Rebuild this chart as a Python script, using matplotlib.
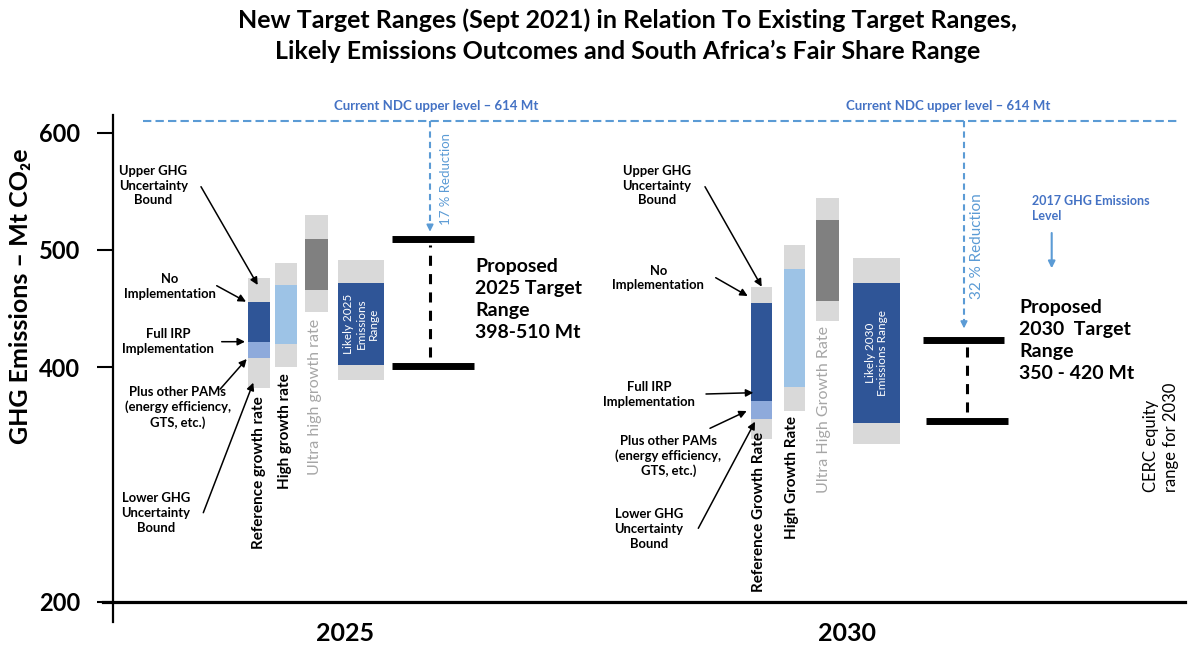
import matplotlib
matplotlib.use('Agg')
import matplotlib.pyplot as plt

plt.rcParams['font.family'] = ['Lato', 'DejaVu Sans']

W, H = 1197, 650

# ---- data (Mt CO2e) ----
years = ['2025', '2030']
ndc_level = 610
ndc_label = 'Current NDC upper level – 614 Mt'

# reference growth rate: lower bound, +PAMs, full IRP, no implementation, upper bound
ref_low = [382, 338.5]
ref_pams = [408, 356]
ref_irp = [421, 371]
ref_noimpl = [455.5, 454.5]
ref_high = [476, 468.5]

# outer low, inner low, inner high, outer high
high_rate = [[400, 420, 470, 489], [362.5, 383, 484, 504]]
ultra_rate = [[447, 466, 509, 529.5], [439, 456, 525.5, 544]]
likely_range = [[389, 402, 471.5, 491], [334.5, 352, 472, 493.5]]

target_low = [401, 354]
target_high = [509, 423]
reduction_end = [515.5, 433]
reduction_labels = ['17 % Reduction', '32 % Reduction']
proposed_text = ['Proposed\n2025 Target\nRange\n398-510 Mt',
                 'Proposed\n2030  Target\nRange\n350 - 420 Mt']
rate_labels = [['Reference growth rate', 'High growth rate', 'Ultra high growth rate'],
               ['Reference Growth Rate', 'High Growth Rate', 'Ultra High Growth Rate']]
likely_labels = ['Likely 2025\nEmissions\nRange', 'Likely 2030\nEmissions Range']
notes = ['Upper GHG\nUncertainty\nBound', 'No\nImplementation', 'Full IRP\nImplementation',
         'Plus other PAMs\n(energy efficiency,\nGTS, etc.)', 'Lower GHG\nUncertainty\nBound']

# colours
GREY = '#d9d9d9'
DARK = '#2f5597'
MID = '#8eaadb'
LIGHT = '#9dc3e6'
DGREY = '#808080'
BLUE = '#5b9bd5'
TBLUE = '#4472c4'


def yv(p):
    # pixel row -> value on the y axis
    return 600 - (p - 132.7) / 1.172


fig = plt.figure(figsize=(W / 100, H / 100), dpi=100)
ax = fig.add_axes([113 / W, 48.5 / H, (1185 - 113) / W, 501.5 / H])
ax.set_xlim(113, 1185)
ax.set_ylim(200, yv(100))
for s in ax.spines.values():
    s.set_visible(False)

# axis lines
ax.plot([113, 113], [yv(115), yv(622)], color='black', lw=1.6, clip_on=False)
ax.plot([103, 1185], [200, 200], color='black', lw=2.3, clip_on=False)
ax.set_yticks([200, 400, 500, 600])
ax.set_yticklabels(['200', '400', '500', '600'], fontsize=17, fontweight='bold')
ax.tick_params(axis='y', direction='out', length=11.5, width=1.5, pad=12)
ax.set_xticks([345, 847])
ax.set_xticklabels(years, fontsize=18, fontweight='bold')
ax.tick_params(axis='x', length=0, pad=15)

# layout: (centre, width) of each bar, pixels
bar_x = [[(259, 22), (286, 22), (316.2, 23), (361.3, 46)],
         [(761.7, 21.3), (794.7, 20.7), (827.5, 23), (876.7, 46.7)]]
label_x = [[259.3, 285, 315], [759.3, 791.7, 824]]
target_x = [[(392, 474), (392, 474), 430], [(922.7, 1004.3), (925.7, 1007.7), 966.7]]
reduction_x = [430, 964]
reduction_text = [(445.7, 179), (977.3, 246.5)]
proposed_pos = [(475, 299.5), (1019.3, 340.8)]
ndc_text_x = [435.8, 948]
note_pos = [[(153.3, 186), (170, 286.3), (168.3, 341.7), (177.7, 407.5), (155.7, 513)],
            [(656.7, 186), (658.3, 277.8), (649.3, 394.3), (668.3, 455.9), (649, 529)]]
note_arrows = [[((201, 186.7), (257.7, 285)), ((216.7, 285.7), (246, 301.7)),
                ((221.7, 341.7), (245, 341.7)), ((220, 389.3), (246.7, 359)),
                ((203.3, 512.7), (253.3, 382.7))],
               [((705, 186.7), (761.7, 286.7)), ((715.7, 277.7), (747.7, 296)),
                ((706, 394), (753.3, 392.7)), ((710, 428.3), (746.7, 411)),
                ((698.3, 528.3), (755, 421.7))]]

# NDC line
ax.plot([143, 1180], [ndc_level, ndc_level], color=BLUE, lw=1.5, ls=(0, (4, 2)))

for g in range(2):
    xs = bar_x[g]
    x, w = xs[0]
    ax.bar(x, ref_high[g] - ref_low[g], bottom=ref_low[g], width=w, color=GREY)
    ax.bar(x, ref_noimpl[g] - ref_irp[g], bottom=ref_irp[g], width=w, color=DARK)
    ax.bar(x, ref_irp[g] - ref_pams[g], bottom=ref_pams[g], width=w, color=MID)
    for (x, w), vals, col in zip(xs[1:], [high_rate[g], ultra_rate[g], likely_range[g]],
                                 [LIGHT, DGREY, DARK]):
        lo, ilo, ihi, hi = vals
        ax.bar(x, hi - lo, bottom=lo, width=w, color=GREY)
        ax.bar(x, ihi - ilo, bottom=ilo, width=w, color=col)

    # labels under bars
    bottoms = [ref_low[g], high_rate[g][0], ultra_rate[g][0]]
    gaps = [8, 6, 7] if g == 0 else [-7, 5, 5]
    for i, lab in enumerate(rate_labels[g]):
        grey = i == 2
        ax.text(label_x[g][i], bottoms[i] - gaps[i] / 1.172, lab, rotation=90,
                ha='center', va='top', fontsize=11.5 if grey else 11,
                fontweight='normal' if grey else 'bold',
                color='#a6a6a6' if grey else 'black')

    lx = xs[3][0]
    ax.text(lx, (likely_range[g][1] + likely_range[g][2]) / 2, likely_labels[g],
            rotation=90, ha='center', va='center', color='white', fontsize=8.5,
            multialignment='center', linespacing=1.15)

    # proposed target range
    (a0, a1), (b0, b1), dx = target_x[g]
    ax.hlines(target_high[g], a0, a1, color='black', lw=5)
    ax.hlines(target_low[g], b0, b1, color='black', lw=5)
    ax.vlines(dx, target_low[g] + 7.5, target_high[g] - 4.5, color='black', lw=2.2,
              linestyles=(0, (3.3, 2.7)))
    px, py = proposed_pos[g]
    ax.text(px, yv(py), proposed_text[g], ha='left', va='center', fontsize=14,
            fontweight='bold', linespacing=1.35)

    # reduction arrow
    rx = reduction_x[g]
    ax.plot([rx, rx], [ndc_level, reduction_end[g] + 3], color=BLUE, lw=1.5,
            ls=(0, (3, 2)))
    ax.annotate('', xy=(rx, reduction_end[g]), xytext=(rx, reduction_end[g] + 6),
                arrowprops=dict(arrowstyle='-|>', color=BLUE, lw=1.2,
                                mutation_scale=10, shrinkA=0, shrinkB=0))
    tx, ty = reduction_text[g]
    ax.text(tx, yv(ty), reduction_labels[g], rotation=90, ha='center', va='center',
            color=BLUE, fontsize=9.5 if g == 0 else 11)

    ax.text(ndc_text_x[g], yv(105.7), ndc_label, ha='center', va='center',
            color=TBLUE, fontsize=9.5, fontweight='bold')

    # notes with arrows
    for (nx, ny), txt in zip(note_pos[g], notes):
        ax.text(nx, yv(ny), txt, ha='center', va='center', fontsize=9.4,
                fontweight='bold', linespacing=1.25)
    for (p0, p1) in note_arrows[g]:
        ax.annotate('', xy=(p1[0], yv(p1[1])), xytext=(p0[0], yv(p0[1])),
                    arrowprops=dict(arrowstyle='-|>', color='black', lw=1.1,
                                    mutation_scale=11, shrinkA=0, shrinkB=0))

# 2017 level
ax.text(1031.7, yv(208.3), '2017 GHG Emissions\nLevel', ha='left', va='center',
        color=TBLUE, fontsize=9, fontweight='bold', linespacing=1.35)
ax.annotate('', xy=(1051.7, yv(268.3)), xytext=(1051.7, yv(233)),
            arrowprops=dict(arrowstyle='-|>', color=BLUE, lw=1.5,
                            mutation_scale=10, shrinkA=0, shrinkB=0))

# CERC
ax.text(1161, yv(491.7), 'CERC equity\nrange for 2030', rotation=90, ha='center',
        va='bottom', multialignment='left', fontsize=12, linespacing=1.3)

# title and y label
fig.text(628 / W, 1 - 36 / H,
         'New Target Ranges (Sept 2021) in Relation To Existing Target Ranges,\n'
         'Likely Emissions Outcomes and South Africa\u2019s Fair Share Range',
         ha='center', va='center', fontsize=18, fontweight='bold', linespacing=1.4)
fig.text(21 / W, 1 - 296 / H, 'GHG Emissions \u2013 Mt CO\u2082e', rotation=90,
         ha='center', va='center', fontsize=18, fontweight='bold')

fig.savefig('out.png', dpi=100)
